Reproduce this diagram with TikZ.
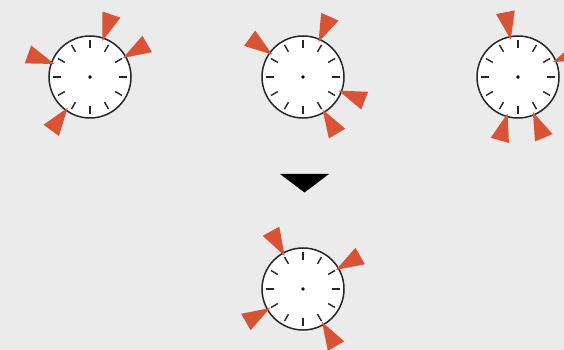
\documentclass[tikz,border=0pt]{standalone}
\usetikzlibrary{calc}
\definecolor{bggray}{RGB}{235,235,235}
\definecolor{handred}{RGB}{217,83,55}
\tikzset{
  clock/.style={circle, draw=black!85, fill=white, line width=1.5pt,
    minimum size=82pt, inner sep=0pt},
  tick/.style={line width=1.4pt, black!85},
  hand/.style={fill=handred}
}
\begin{document}
\begin{tikzpicture}[x=1pt,y=1pt]
  \fill[bggray] (0,0) rectangle (564,350);
  \useasboundingbox (0,0) rectangle (564,350);
  \clip (0,0) rectangle (564,350);

  % the four clock faces
  \node[clock] (c1) at (90,273) {};
  \node[clock] (c2) at (303,273) {};
  \node[clock] (c3) at (518,273) {};
  \node[clock] (c4) at (303,61) {};

  % hour ticks and centre dots
  \foreach \c in {c1,c2,c3,c4} {
    \foreach \a in {0,30,...,330}
      \draw[tick] ($(\c)+(\a:29)$) -- ($(\c)+(\a:37)$);
    \fill (\c) circle (1.8);
  }

  % red hands pointing at the rim
  \foreach \c/\a in {c1/71,c1/30,c1/160,c1/234,
                     c2/66,c2/144,c2/339,c2/301,
                     c3/101,c3/23,c3/254,c3/293,
                     c4/119,c4/30,c4/210,c4/300}
    \fill[hand] ($(\c)+(\a:38)$) -- ($(\c)+(\a:66)+(\a+90:9.5)$)
      -- ($(\c)+(\a:66)+(\a-90:9.5)$) -- cycle;

  % merge arrow
  \coordinate (al) at (280,176);
  \coordinate (ar) at (329,176);
  \coordinate (at) at (304.5,157.5);
  \fill (al) -- (ar) -- (at) -- cycle;
\end{tikzpicture}
\end{document}
